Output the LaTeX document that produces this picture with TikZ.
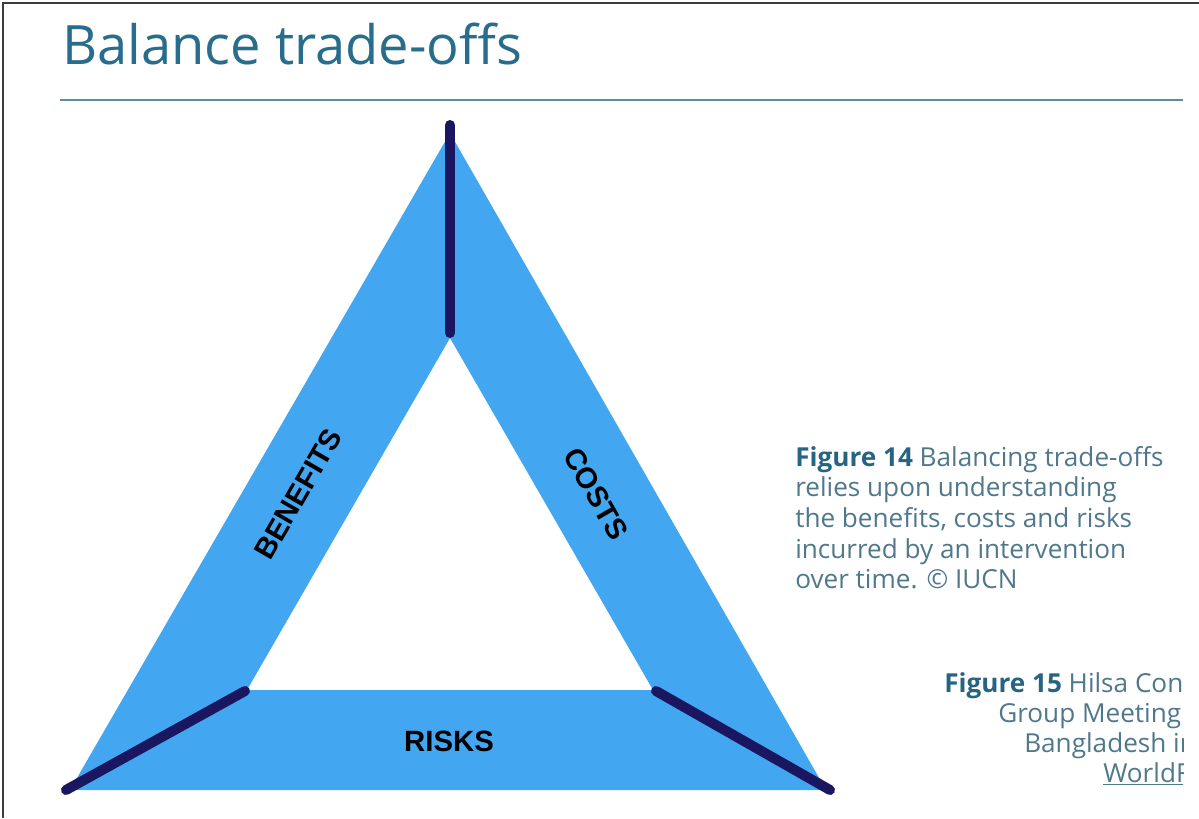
\documentclass[tikz,border=0pt]{standalone}
\usepackage{fontspec}
\setmainfont{Open Sans}
\newfontfamily\labelfont{Liberation Sans}
\definecolor{bandblue}{RGB}{66,166,240}
\definecolor{navyline}{RGB}{26,22,96}
\definecolor{titleteal}{RGB}{40,110,140}
\definecolor{captext}{RGB}{80,120,140}
\definecolor{capbold}{RGB}{38,100,130}
\definecolor{rulecol}{RGB}{95,140,155}
\definecolor{framecol}{RGB}{60,60,60}
\tikzset{
  band/.style={fill=bandblue, draw=none, even odd rule},
  divider/.style={draw=navyline, line width=7.5pt, line cap=round},
  sidelabel/.style={font=\labelfont\bfseries\fontsize{22}{26}\selectfont, text=black, inner sep=0pt},
  captionline/.style={anchor=base west, inner sep=0pt, font=\fontsize{19.6}{23}\selectfont, text=captext},
}
\begin{document}
\begin{tikzpicture}[x=0.75pt,y=-0.75pt]
\useasboundingbox (0,0) rectangle (1199,818);
\fill[white] (0,0) rectangle (1199,818);
% frame
\draw[framecol, line width=1.6pt] (3,818) -- (3,3) -- (1199,3);
% title
\node[anchor=base west, inner sep=0pt, text=titleteal, font=\fontsize{40.7}{48}\selectfont] (title) at (62,64) {Balance trade-offs};
\draw[rulecol, line width=1.6pt] (60,100) -- (1183,100);
% triangle vertices
\coordinate (oA) at (450,133);
\coordinate (oL) at (70,790);
\coordinate (oR) at (826,790);
\coordinate (iA) at (450,338);
\coordinate (iL) at (247,690);
\coordinate (iR) at (653,690);
\path[band] (oA) -- (oL) -- (oR) -- cycle (iA) -- (iL) -- (iR) -- cycle;
% dividers
\coordinate (topEnd) at (450,125);
\coordinate (topIn) at (450,333);
\coordinate (blEnd) at (66,790);
\coordinate (blIn) at (245,691);
\coordinate (brEnd) at (830,790);
\coordinate (brIn) at (656,691);
\draw[divider] (topEnd) -- (topIn);
\draw[divider] (blEnd) -- (blIn);
\draw[divider] (brEnd) -- (brIn);
% labels
\node[sidelabel, rotate=60] (benefits) at (298,494) {BENEFITS};
\node[sidelabel, rotate=-60] (costs) at (596,494) {COSTS};
\node[sidelabel] (risks) at (449,741) {RISKS};
% caption figure 14
\node[captionline] (c1) at (795,466) {\textcolor{capbold}{\bfseries Figure 14} Balancing trade-offs};
\node[captionline] (c2) at (795,496) {relies upon understanding};
\node[captionline] (c3) at (795,527) {the benefits, costs and risks};
\node[captionline] (c4) at (795,558) {incurred by an intervention};
\node[captionline] (c5) at (795,588) {over time. © IUCN};
% caption figure 15 (clipped at the page edge)
\begin{scope}
\clip (900,640) rectangle (1183,818);
\node[captionline] (d1) at (944,692) {\textcolor{capbold}{\bfseries Figure 15} Hilsa Con};
\node[captionline] (d2) at (998,722) {Group Meeting};
\node[captionline] (d3) at (1024,752) {Bangladesh in};
\node[captionline] (d4) at (1103,782) {\underline{WorldFi}};
\end{scope}
\end{tikzpicture}
\end{document}
